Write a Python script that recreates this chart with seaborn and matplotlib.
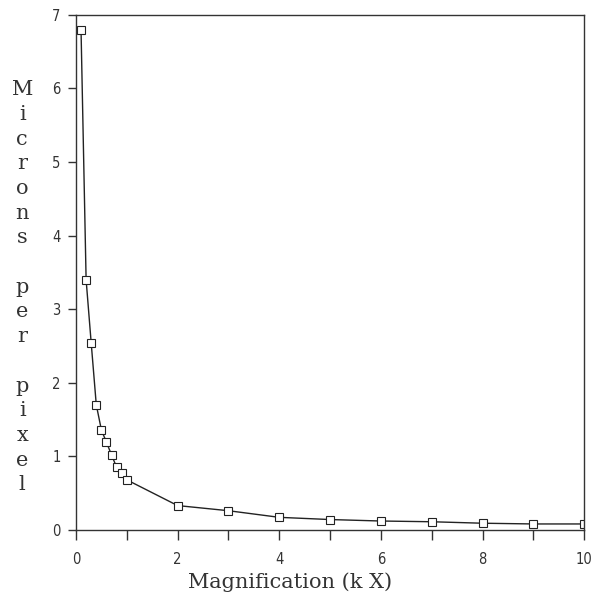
import numpy as np
import pandas as pd
import matplotlib
matplotlib.use("Agg")
import matplotlib.pyplot as plt
import seaborn as sns

# magnification in kX and the resulting microns per pixel
magnification = [0.1, 0.2, 0.3, 0.4, 0.5, 0.6, 0.7, 0.8, 0.9, 1.0,
                 2, 3, 4, 5, 6, 7, 8, 9, 10]
microns_per_pixel = [6.8, 3.4, 2.54, 1.70, 1.36, 1.19, 1.02, 0.85, 0.77, 0.68,
                     0.33, 0.26, 0.17, 0.14, 0.12, 0.11, 0.09, 0.08, 0.08]

x_ticks = list(range(0, 11))
y_ticks = list(range(0, 8))

sns.set_theme(style="ticks")
plt.rcParams['font.family'] = ['DejaVu Sans']
plt.rcParams['font.stretch'] = 'condensed'

df = pd.DataFrame({"mag": magnification, "mpp": microns_per_pixel})

fig = plt.figure(figsize=(5.98, 5.96), dpi=100)
ax = fig.add_axes([0.127, 0.111, 0.850, 0.864])

sns.lineplot(data=df, x="mag", y="mpp", ax=ax, color="#222222", linewidth=1.0,
             marker="s", markersize=5.5, markerfacecolor="white",
             markeredgecolor="#222222", markeredgewidth=0.8)

ax.set_xlim(0, 10)
ax.set_ylim(0, 7)
ax.set_xticks(x_ticks)
ax.set_xticklabels([str(t) if t % 2 == 0 else "" for t in x_ticks])
ax.set_yticks(y_ticks)
ax.set_xlabel("")
ax.set_ylabel("")

for s in ax.spines.values():
    s.set_color("#333333")
    s.set_linewidth(1.0)

ax.tick_params(axis="x", direction="out", length=7, width=1.0, pad=9,
               labelsize=10.5, colors="#333333")
ax.tick_params(axis="y", direction="out", length=6, width=1.0, pad=5,
               labelsize=10.5, colors="#333333")
for lab in ax.get_xticklabels() + ax.get_yticklabels():
    lab.set_fontstretch('condensed')

# axis titles in a serif face, the y one stacked letter by letter
serif = ['DejaVu Serif']
fig.text(0.485, 0.014, "Magnification (k X)", family=serif, fontsize=15,
         fontstretch='normal', ha="center", va="baseline", color="#333333")
ylabel = "\n".join(list("Microns")) + "\n\n" + "\n".join(list("per")) + \
    "\n\n" + "\n".join(list("pixel"))
fig.text(0.037, 0.518, ylabel, family=serif, fontsize=15, fontstretch='normal',
         ha="center", va="center", linespacing=1.38, color="#333333")

fig.savefig("out.png", dpi=100)
